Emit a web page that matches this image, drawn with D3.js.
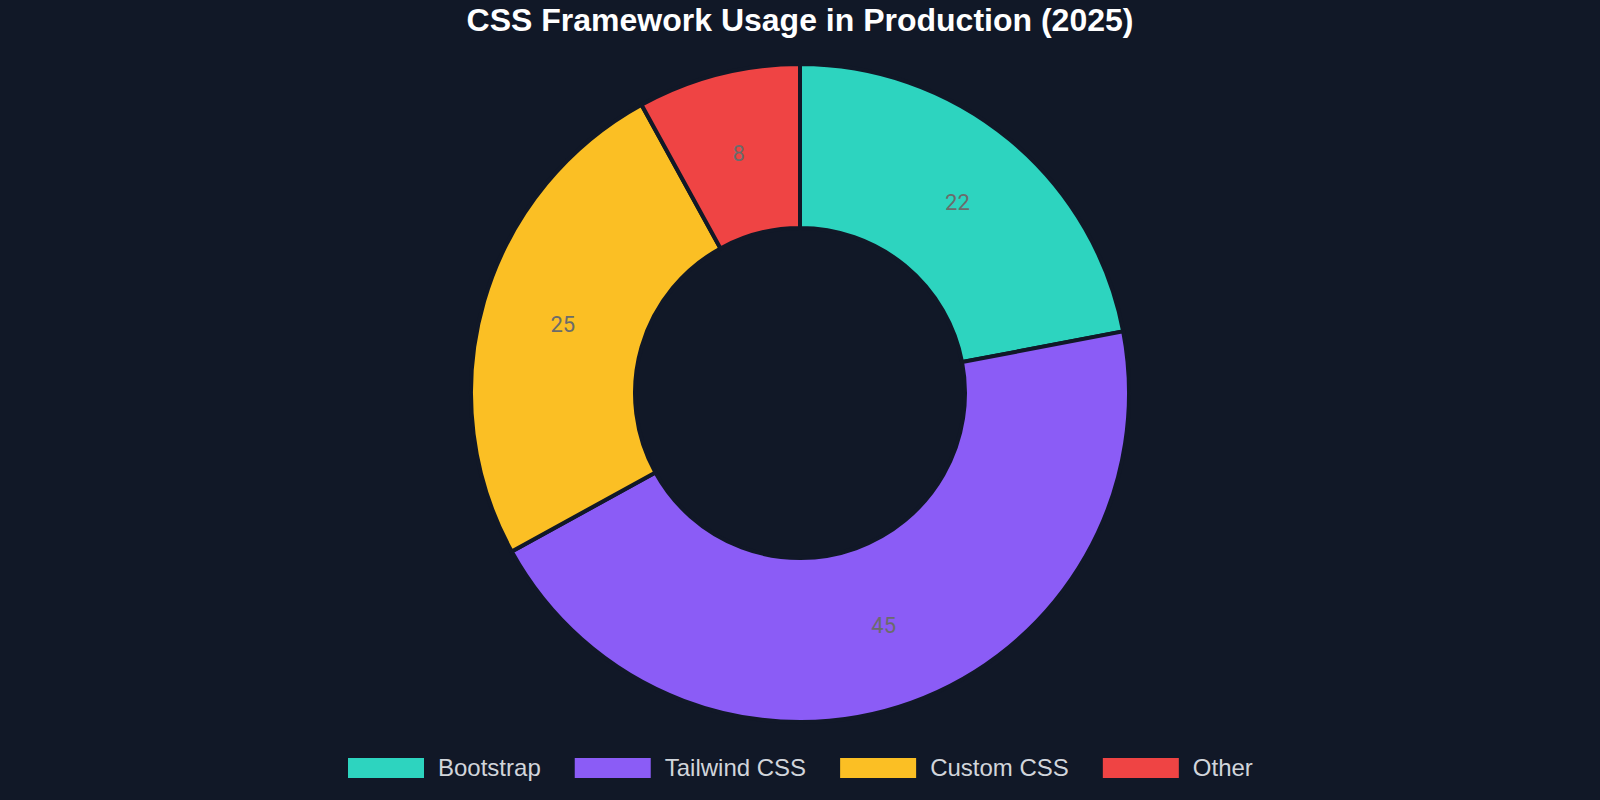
<!DOCTYPE html>
<html>
<head>
<meta charset="utf-8">
<script src="https://cdn.jsdelivr.net/npm/d3@7"></script>
<style>
  html, body { margin: 0; padding: 0; background: #111827; }
  svg { display: block; }
</style>
</head>
<body>
<div id="chart-div"></div>
<script>
var categories = ["Bootstrap", "Tailwind CSS", "Custom CSS", "Other"];
var usage = [22, 45, 25, 8];
var colors = ["#2dd4bf", "#8b5cf6", "#fbbf24", "#ef4444"];

var width = 1600
var height = 800

var svg = d3.select('#chart-div')
            .append('svg')
            .attr("width", width)
            .attr("height", height)
            .attr("viewBox", [0, 0, width, height]);

svg.append("rect")
    .attr("width", width)
    .attr("height", height)
    .attr("fill", "#111827");

// title
svg.append("text")
    .attr("x", 800)
    .attr("y", 31)
    .attr("text-anchor", "middle")
    .style("font-family", "'Liberation Sans', Arial, sans-serif")
    .style("font-weight", "bold")
    .style("font-size", "32px")
    .style("fill", "#ffffff")
    .text("CSS Framework Usage in Production (2025)");

var data = categories.map(function(c, i) { return {name: c, value: usage[i]}; });

var color = d3.scaleOrdinal().domain(categories).range(colors);

var pie = d3.pie()
    .sort(null)
    .value(function(d) { return d.value; });

var outerR = 329, innerR = 165;
var arc = d3.arc().innerRadius(innerR).outerRadius(outerR);
var labelArc = d3.arc().innerRadius((innerR + outerR) / 2).outerRadius((innerR + outerR) / 2);

var g = svg.append("g")
    .attr("transform", "translate(800,393)");

g.selectAll("path")
    .data(pie(data))
    .enter().append("path")
    .attr("d", arc)
    .attr("fill", function(d) { return color(d.data.name); })
    .attr("stroke", "#111827")
    .attr("stroke-width", 4);

g.selectAll(".slice-label")
    .data(pie(data))
    .enter().append("text")
    .attr("class", "slice-label")
    .attr("transform", function(d) { return "translate(" + labelArc.centroid(d) + ")"; })
    .attr("text-anchor", "middle")
    .attr("dy", "0.35em")
    .style("font-family", "Roboto, sans-serif")
    .style("font-size", "22px")
    .style("fill", "#6b6b6b")
    .text(function(d) { return d.data.value; });

// legend
var legend = svg.append("g").attr("class", "legend");
var x = 348;
categories.forEach(function(c) {
    var item = legend.append("g").attr("transform", "translate(" + x + ",0)");
    item.append("rect")
        .attr("x", 0)
        .attr("y", 758)
        .attr("width", 76)
        .attr("height", 20)
        .attr("fill", color(c));
    var t = item.append("text")
        .attr("x", 90)
        .attr("y", 776)
        .style("font-family", "'Liberation Sans', Arial, sans-serif")
        .style("font-size", "24px")
        .style("fill", "#d1d5db")
        .text(c);
    x += 90 + t.node().getComputedTextLength() + 34;
});
</script>
</body>
</html>
